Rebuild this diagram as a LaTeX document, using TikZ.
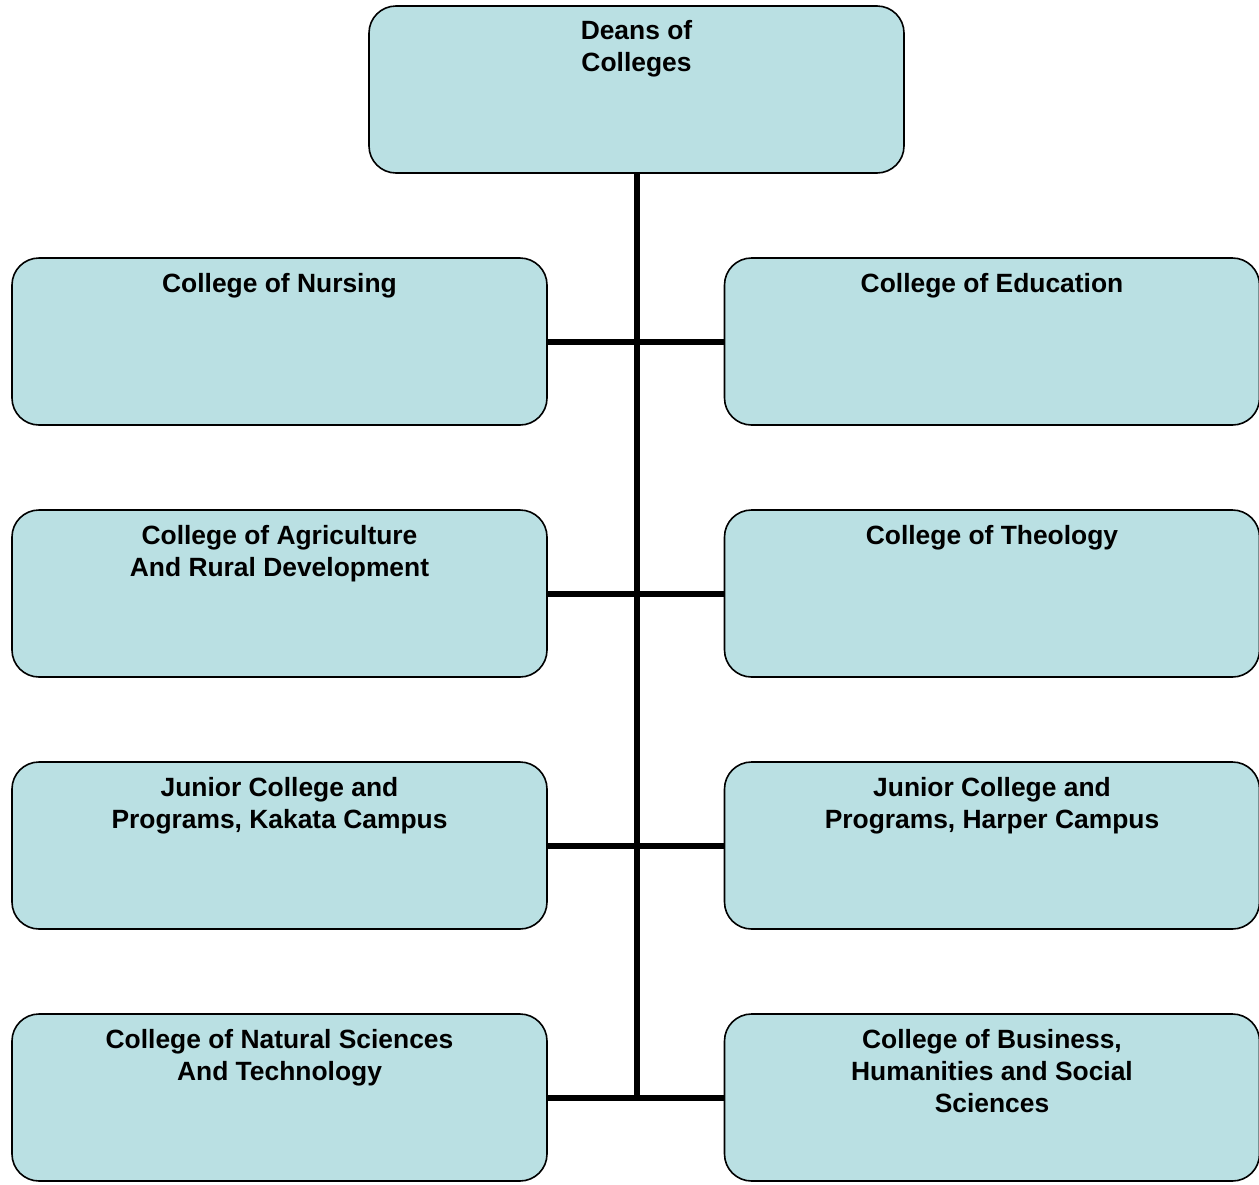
\documentclass[tikz,border=0pt]{standalone}
\usepackage{fontspec}
\setmainfont{Liberation Sans}
\definecolor{boxfill}{RGB}{186,224,227}
\begin{document}
\begin{tikzpicture}[x=1pt,y=-1pt,
  unitbox/.style={draw=black, line width=1.6pt, fill=boxfill, rounded corners=27pt,
    minimum width=535pt, minimum height=167pt, inner sep=0pt},
  unitlabel/.style={anchor=north, inner sep=0pt, align=center,
    font=\fontsize{26.4}{32}\selectfont\bfseries},
  link/.style={line width=6pt, black}]
\useasboundingbox (0,0) rectangle (1259,1184);
\coordinate (vend) at (636.5,1098);
\node[unitbox] (deans) at (636.5,89.5) {};
\node[unitbox] (nurs) at (279.5,341.5) {};
\node[unitbox] (educ) at (992,341.5) {};
\node[unitbox] (agri) at (279.5,593.5) {};
\node[unitbox] (theo) at (992,593.5) {};
\node[unitbox] (kaka) at (279.5,845.5) {};
\node[unitbox] (harp) at (992,845.5) {};
\node[unitbox] (natu) at (279.5,1097.5) {};
\node[unitbox] (busi) at (992,1097.5) {};
% connectors
\draw[link] (deans.south) -- (vend);
\draw[link] (nurs.east) -- (educ.west);
\draw[link] (agri.east) -- (theo.west);
\draw[link] (kaka.east) -- (harp.west);
\draw[link] (natu.east) -- (busi.west);
% labels
\node[unitlabel] (tdeans) at ([yshift=-15pt]deans.north) {Deans of\\Colleges};
\node[unitlabel] (tnurs) at ([yshift=-16pt]nurs.north) {College of Nursing};
\node[unitlabel] (teduc) at ([yshift=-16pt]educ.north) {College of Education};
\node[unitlabel] (tagri) at ([yshift=-16pt]agri.north) {College of Agriculture\\And Rural Development};
\node[unitlabel] (ttheo) at ([yshift=-16pt]theo.north) {College of Theology};
\node[unitlabel] (tkaka) at ([yshift=-16pt]kaka.north) {Junior College and\\Programs, Kakata Campus};
\node[unitlabel] (tharp) at ([yshift=-16pt]harp.north) {Junior College and\\Programs, Harper Campus};
\node[unitlabel] (tnatu) at ([yshift=-16pt]natu.north) {College of Natural Sciences\\And Technology};
\node[unitlabel] (tbusi) at ([yshift=-16pt]busi.north) {College of Business,\\Humanities and Social\\Sciences};
\end{tikzpicture}
\end{document}
